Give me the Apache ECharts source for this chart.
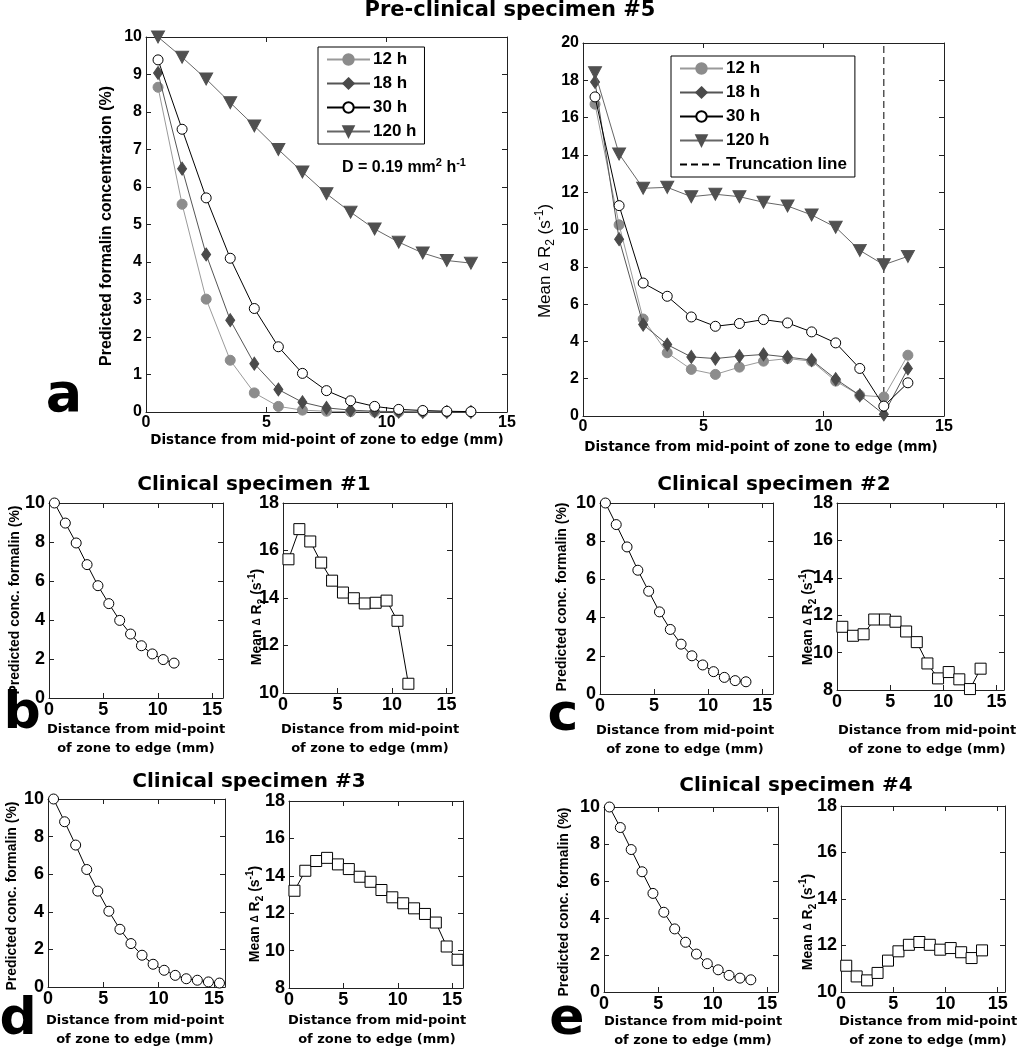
<!DOCTYPE html>
<html><head><meta charset="utf-8">
<script src="https://cdn.jsdelivr.net/npm/echarts@6/dist/echarts.min.js"></script>
<style>html,body{margin:0;padding:0;background:#fff}#c{width:1019px;height:1050px}</style>
</head><body><div id="c"></div>
<script>
// ---------------- DATA ----------------
const xA = [0.5,1.5,2.5,3.5,4.5,5.5,6.5,7.5,8.5,9.5,10.5,11.5,12.5,13.5];
const xB = [0.5,1.5,2.5,3.5,4.5,5.5,6.5,7.5,8.5,9.5,10.5,11.5];
const xC = [0.5,1.5,2.5,3.5,4.5,5.5,6.5,7.5,8.5,9.5,10.5,11.5,12.5,13.5];
const xD = [0.5,1.5,2.5,3.5,4.5,5.5,6.5,7.5,8.5,9.5,10.5,11.5,12.5,13.5,14.5,15.5];
const xE = [0.5,1.5,2.5,3.5,4.5,5.5,6.5,7.5,8.5,9.5,10.5,11.5,12.5,13.5];

const seriesNames = ['12 h','18 h','30 h','120 h'];
const truncationName = 'Truncation line';

const concA_12h  = [8.66,5.54,3.01,1.38,0.51,0.15,0.05,0.02,0.01,0,0,0,0,0];
const concA_18h  = [9.04,6.49,4.20,2.45,1.29,0.60,0.26,0.11,0.05,0.02,0.01,0,0,0];
const concA_30h  = [9.39,7.54,5.71,4.10,2.76,1.74,1.03,0.57,0.30,0.15,0.07,0.04,0.02,0.01];
const concA_120h = [10,9.46,8.88,8.25,7.63,7.0,6.40,5.82,5.33,4.88,4.53,4.24,4.04,3.97];

const r2A_12h  = [16.72,10.25,5.20,3.39,2.50,2.23,2.62,2.94,3.08,2.94,1.87,1.11,1.02,3.26];
const r2A_18h  = [17.91,9.48,4.90,3.83,3.17,3.08,3.21,3.30,3.16,3.00,1.98,1.11,0.09,2.55];
const r2A_30h  = [17.11,11.28,7.13,6.42,5.31,4.81,4.96,5.17,4.99,4.51,3.92,2.55,0.53,1.78];
const r2A_120h = [18.40,14.05,12.21,12.26,11.76,11.89,11.76,11.46,11.26,10.78,10.12,8.88,8.11,8.56];
const truncationX = 12.5;
const truncationY = [0, 20];

const concB = [10,8.97,7.95,6.84,5.76,4.84,3.98,3.28,2.68,2.26,1.97,1.79];
const r2B   = [15.63,16.90,16.38,15.49,14.73,14.23,13.99,13.77,13.80,13.89,13.04,10.39];
const concC = [10,8.87,7.70,6.48,5.38,4.30,3.38,2.61,2.00,1.52,1.17,0.87,0.70,0.64];
const r2C   = [11.38,10.90,10.98,11.77,11.77,11.65,11.13,10.56,9.42,8.62,8.96,8.57,8.05,9.14];
const concD = [10,8.79,7.55,6.25,5.10,4.03,3.07,2.31,1.69,1.21,0.89,0.62,0.44,0.36,0.27,0.21];
const r2D   = [13.20,14.27,14.79,14.96,14.61,14.36,13.95,13.68,13.24,12.85,12.53,12.26,11.96,11.50,10.22,9.51];
const concE = [10,8.89,7.70,6.50,5.33,4.31,3.41,2.69,2.05,1.53,1.20,0.90,0.75,0.66];
const r2E   = [11.13,10.67,10.50,10.82,11.35,11.75,12.03,12.15,12.03,11.82,11.89,11.71,11.46,11.79];

const xTickStep = 5;

// ---------------- LAYOUT ----------------
const ARIAL = 'Liberation Sans';
const DEJA = 'DejaVu Sans';

const panels = [
  {grid:{left:146, top:37, width:361, height:375}, xmax:15, ymin:0, ymax:10, yint:1, fs:16},
  {grid:{left:583, top:43, width:361, height:373}, xmax:15, ymin:0, ymax:20, yint:2, fs:16},
  {grid:{left:49,  top:503, width:174, height:195}, xmax:16, ymin:0, ymax:10, yint:2, fs:18},
  {grid:{left:283, top:503, width:169, height:190}, xmax:15.5, ymin:10, ymax:18, yint:2, fs:18},
  {grid:{left:600, top:503, width:173, height:191}, xmax:16, ymin:0, ymax:10, yint:2, fs:18},
  {grid:{left:837, top:503, width:167, height:187}, xmax:15.7, ymin:8, ymax:18, yint:2, fs:18},
  {grid:{left:48,  top:799, width:177, height:188}, xmax:16, ymin:0, ymax:10, yint:2, fs:18},
  {grid:{left:289, top:801, width:174, height:187}, xmax:16, ymin:8, ymax:18, yint:2, fs:18},
  {grid:{left:604, top:807, width:174, height:185}, xmax:16, ymin:0, ymax:10, yint:2, fs:18},
  {grid:{left:841, top:806, width:164, height:186}, xmax:15.7, ymin:10, ymax:18, yint:2, fs:18}
];

const grids = [], xAxes = [], yAxes = [];
panels.forEach((p, gi) => {
  grids.push(Object.assign({show:false}, p.grid));
  const lab = {fontSize:p.fs, fontFamily:ARIAL, fontWeight:'bold', color:'#000'};
  const line = {show:true, onZero:false, lineStyle:{color:'#222', width:1}};
  const tick = {show:true, inside:true, length:5, lineStyle:{color:'#222', width:1}};
  xAxes.push({type:'value', gridIndex:gi, position:'bottom', min:0, max:p.xmax, interval:xTickStep,
    axisLine:line, axisTick:tick, splitLine:{show:false},
    axisLabel:Object.assign({margin:3, formatter: v => (Math.abs(v % xTickStep) < 1e-9 ? String(v) : '')}, lab)});
  xAxes.push({type:'value', gridIndex:gi, position:'top', min:0, max:p.xmax, interval:xTickStep,
    axisLine:line, axisTick:tick, splitLine:{show:false}, axisLabel:{show:false}});
  yAxes.push({type:'value', gridIndex:gi, position:'left', min:p.ymin, max:p.ymax, interval:p.yint,
    axisLine:line, axisTick:tick, splitLine:{show:false},
    axisLabel:Object.assign({margin:4}, lab)});
  yAxes.push({type:'value', gridIndex:gi, position:'right', min:p.ymin, max:p.ymax, interval:p.yint,
    axisLine:line, axisTick:tick, splitLine:{show:false}, axisLabel:{show:false}});
});

const pairs = (xs, ys) => xs.map((x, i) => [x, ys[i]]);

const styles = {
  '12 h':  {symbol:'circle', symbolSize:10, symbolRotate:0, itemStyle:{color:'#8c8c8c', borderColor:'#8c8c8c', borderWidth:1}, lineStyle:{color:'#9a9a9a', width:1}},
  '18 h':  {symbol:'diamond', symbolSize:[9,13], symbolRotate:0, itemStyle:{color:'#4a4a4a', borderColor:'#4a4a4a', borderWidth:1}, lineStyle:{color:'#555', width:1}},
  '30 h':  {symbol:'circle', symbolSize:10, symbolRotate:0, itemStyle:{color:'#fff', borderColor:'#000', borderWidth:1}, lineStyle:{color:'#000', width:1}},
  '120 h': {symbol:'triangle', symbolSize:[13,12], symbolRotate:180, itemStyle:{color:'#505050', borderColor:'#505050', borderWidth:1}, lineStyle:{color:'#666', width:1}}
};

function mk(name, gi, xs, ys, st, z) {
  return Object.assign({type:'line', name, xAxisIndex:2*gi, yAxisIndex:2*gi, data:pairs(xs, ys),
    showSymbol:true, animation:false, z:z||2, emphasis:{disabled:true}}, st);
}

const series = [];
const aConc = [concA_12h, concA_18h, concA_30h, concA_120h];
const aR2 = [r2A_12h, r2A_18h, r2A_30h, r2A_120h];
seriesNames.forEach((n, k) => {
  series.push(mk(n, 0, xA, aConc[k], styles[n], 2 + k));
  series.push(mk(n, 1, xA, aR2[k], styles[n], 2 + k));
});
series.push({type:'line', name:truncationName, xAxisIndex:2, yAxisIndex:2,
  data:truncationY.map(y => [truncationX, y]), symbol:'circle', symbolSize:0, showSymbol:false,
  animation:false, z:1, itemStyle:{color:'#000'}, lineStyle:{color:'#000', width:1, type:[7,4]}});

const circOpen = {symbol:'circle', symbolSize:10, itemStyle:{color:'#fff', borderColor:'#000', borderWidth:1}, lineStyle:{color:'#000', width:1}};
const sqOpen = {symbol:'rect', symbolSize:11, itemStyle:{color:'#fff', borderColor:'#000', borderWidth:1}, lineStyle:{color:'#000', width:1}};
[[xB, concB, r2B],[xC, concC, r2C],[xD, concD, r2D],[xE, concE, r2E]].forEach((d, k) => {
  series.push(mk('conc' + k, 2 + 2*k, d[0], d[1], circOpen, 3));
  series.push(mk('r2' + k, 3 + 2*k, d[0], d[2], sqOpen, 3));
});

// --------------- TEXTS ----------------
function txt(x, y, text, o) {
  o = o || {};
  return {type:'text', x, y, rotation:o.rot || 0, silent:true, z:100,
    style:{text, fill:'#000', fontFamily:o.ff || ARIAL, fontSize:o.fs || 14, fontWeight:o.fw || 'bold',
      align:o.align || 'center', verticalAlign:'middle', lineHeight:o.lh, rich:o.rich}};
}
const rot = Math.PI / 2;
function r2Rich(fs, fw) {
  return {
    d:{fontSize:Math.round(fs*0.72), fontFamily:ARIAL, fontWeight:fw, lineHeight:fs+6, verticalAlign:'middle'},
    sub:{fontSize:Math.round(fs*0.68), fontFamily:ARIAL, fontWeight:fw, lineHeight:Math.round(fs*0.7), verticalAlign:'bottom'},
    sup:{fontSize:Math.round(fs*0.68), fontFamily:ARIAL, fontWeight:fw, lineHeight:Math.round(fs*0.7), verticalAlign:'top'}
  };
}
const r2Label = 'Mean {d|Δ} R{sub|2} (s{sup|-1})';
const xName2 = 'Distance from mid-point\nof zone to edge (mm)';

const graphics = [
  txt(510, 11, 'Pre-clinical specimen #5', {ff:DEJA, fs:21}),
  txt(254, 485, 'Clinical specimen #1', {ff:DEJA, fs:20}),
  txt(774, 485, 'Clinical specimen #2', {ff:DEJA, fs:20}),
  txt(249, 782, 'Clinical specimen #3', {ff:DEJA, fs:20}),
  txt(796, 786, 'Clinical specimen #4', {ff:DEJA, fs:20}),
  txt(64, 397, 'a', {ff:DEJA, fs:54}),
  txt(22, 714, 'b', {ff:DEJA, fs:52}),
  txt(563, 716, 'c', {ff:DEJA, fs:52}),
  txt(18, 1020, 'd', {ff:DEJA, fs:52}),
  txt(567, 1020, 'e', {ff:DEJA, fs:52}),
  txt(327, 440, 'Distance from mid-point of zone to edge (mm)', {ff:DEJA, fs:13.5}),
  txt(761, 447, 'Distance from mid-point of zone to edge (mm)', {ff:DEJA, fs:13.5}),
  txt(136, 739, xName2, {ff:DEJA, fs:13, lh:19}),
  txt(370, 739, xName2, {ff:DEJA, fs:13, lh:19}),
  txt(685, 740, xName2, {ff:DEJA, fs:13, lh:19}),
  txt(927, 740, xName2, {ff:DEJA, fs:13, lh:19}),
  txt(135, 1030, xName2, {ff:DEJA, fs:13, lh:19}),
  txt(377, 1030, xName2, {ff:DEJA, fs:13, lh:19}),
  txt(693, 1031, xName2, {ff:DEJA, fs:13, lh:19}),
  txt(928, 1031, xName2, {ff:DEJA, fs:13, lh:19}),
  txt(107, 226, 'Predicted formalin concentration (%)', {fs:16, rot}),
  txt(545, 261, r2Label, {fs:17, fw:'normal', rot, lh:23, rich:r2Rich(17,'normal')}),
  txt(15, 600, 'Predicted conc. formalin (%)', {fs:14, rot}),
  txt(562, 597, 'Predicted conc. formalin (%)', {fs:14, rot}),
  txt(12, 896, 'Predicted conc. formalin (%)', {fs:14, rot}),
  txt(564, 902, 'Predicted conc. formalin (%)', {fs:14, rot}),
  txt(257, 617, r2Label, {fs:14, rot, lh:20, rich:r2Rich(14,'bold')}),
  txt(808, 617, r2Label, {fs:14, rot, lh:20, rich:r2Rich(14,'bold')}),
  txt(255, 914, r2Label, {fs:14, rot, lh:20, rich:r2Rich(14,'bold')}),
  txt(808, 922, r2Label, {fs:14, rot, lh:20, rich:r2Rich(14,'bold')}),
  txt(342, 168, 'D = 0.19 mm{sup|2} h{sup|-1}', {fs:16, align:'left', lh:22,
     rich:{sup:{fontSize:11, fontFamily:ARIAL, fontWeight:'bold', lineHeight:11, verticalAlign:'top'}}})
];

const legendBase = {orient:'vertical', borderColor:'#000', borderWidth:1, backgroundColor:'#fff',
  padding:[4,8,4,8], itemGap:7, itemWidth:43, itemHeight:13, selectedMode:false,
  textStyle:{fontSize:17, fontFamily:ARIAL, fontWeight:'bold', color:'#000', padding:[0,0,0,-2]}};

const option = {
  backgroundColor:'#fff',
  animation:false,
  grid:grids, xAxis:xAxes, yAxis:yAxes, series,
  legend:[
    Object.assign({left:318, top:47, data:seriesNames}, legendBase),
    Object.assign({left:671, top:56, data:seriesNames.concat([{name:truncationName, itemStyle:{opacity:0}}])}, legendBase)
  ],
  graphic:graphics
};

const chart = echarts.init(document.getElementById('c'), null, {renderer:'canvas', width:1019, height:1050});
chart.setOption(option);
</script></body></html>
